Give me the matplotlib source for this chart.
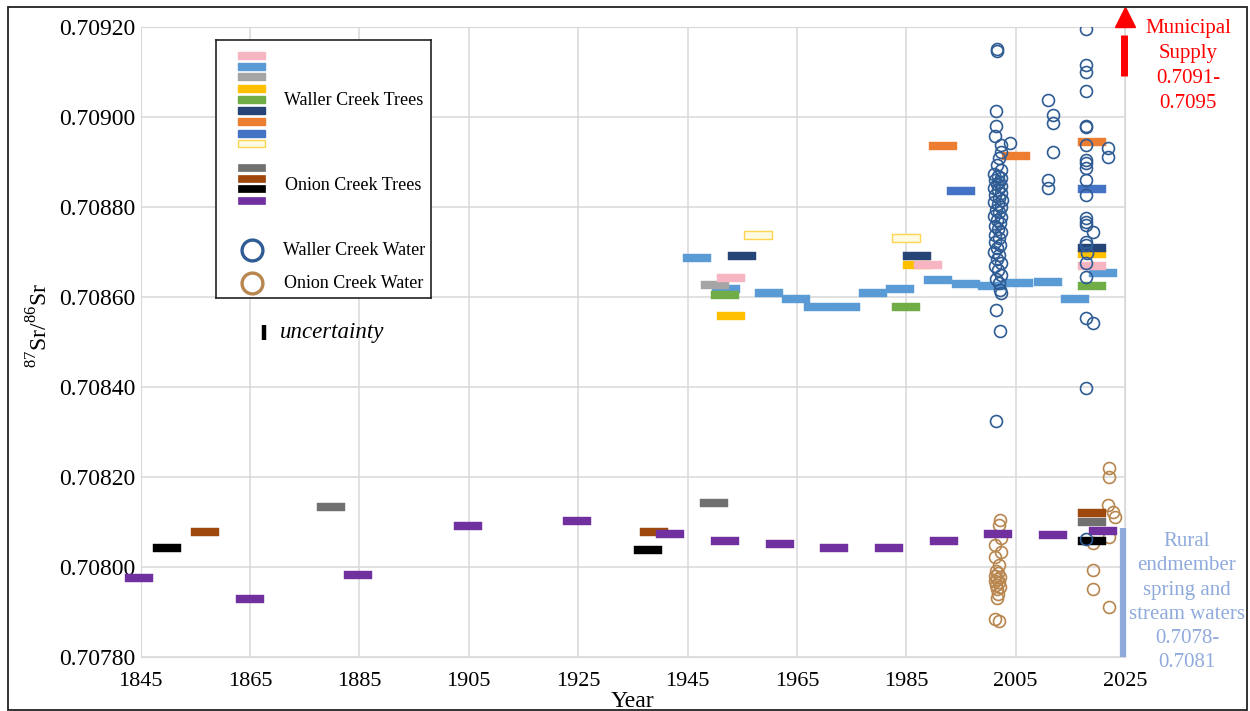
import numpy as np
import matplotlib
matplotlib.use('Agg')
import matplotlib.pyplot as plt
from matplotlib.path import Path
from matplotlib.patches import Rectangle

plt.rcParams['font.family'] = ['Liberation Serif', 'DejaVu Serif']
plt.rcParams['mathtext.fontset'] = 'custom'
plt.rcParams['mathtext.rm'] = 'Liberation Serif'

# ---- Waller Creek trees (year, 87Sr/86Sr) ----
wc_pink_yr = [1952.9, 1988.9, 2019.0]
wc_pink_sr = [0.708642, 0.708670, 0.708669]
wc_ltblue_yr = [1946.8, 1952.0, 1959.9, 1964.9, 1968.9, 1973.9, 1978.9, 1983.9,
                1990.8, 1995.9, 2000.6, 2005.7, 2010.9, 2015.8, 2021.0]
wc_ltblue_sr = [0.708685, 0.708617, 0.708608, 0.708595, 0.708576, 0.708578, 0.708608, 0.708617,
                0.708637, 0.708629, 0.708624, 0.708630, 0.708633, 0.708595, 0.708652]
wc_ltgray_yr = [1950.0]
wc_ltgray_sr = [0.708626]
wc_gold_yr = [1953.0, 1986.9, 2019.0]
wc_gold_sr = [0.708557, 0.708670, 0.708694]
wc_green_yr = [1951.8, 1984.9, 2019.0]
wc_green_sr = [0.708603, 0.708578, 0.708624]
wc_navy_yr = [1954.9, 1986.9, 2019.0]
wc_navy_sr = [0.708690, 0.708690, 0.708708]
wc_orange_yr = [1991.8, 2005.0, 2019.0]
wc_orange_sr = [0.708935, 0.708913, 0.708944]
wc_blue_yr = [1995.0, 2019.0]
wc_blue_sr = [0.708835, 0.708839]
wc_yellow_yr = [1957.9, 1984.9]
wc_yellow_sr = [0.708736, 0.708730]

# ---- Onion Creek trees ----
oc_dkgray_yr = [1879.8, 1949.9, 2018.9]
oc_dkgray_sr = [0.708133, 0.708142, 0.708099]
oc_brown_yr = [1856.8, 1938.9, 2018.9]
oc_brown_sr = [0.708077, 0.708077, 0.708120]
oc_black_yr = [1849.75, 1937.8, 2018.9]
oc_black_sr = [0.708042, 0.708038, 0.708056]
oc_purple_yr = [1844.7, 1864.9, 1884.8, 1904.9, 1924.7, 1941.8, 1951.8, 1961.9,
                1971.8, 1981.9, 1991.9, 2001.8, 2011.8, 2020.9]
oc_purple_sr = [0.707975, 0.707928, 0.707982, 0.708090, 0.708102, 0.708072, 0.708056, 0.708050,
                0.708041, 0.708042, 0.708057, 0.708072, 0.708070, 0.708080]

# ---- Waller Creek water ----
wc_water_yr = [2001.5, 2001.6, 2001.4, 2001.4, 2001.3, 2002.3, 2002.3, 2002.0, 2001.6, 2002.3,
               2001.0, 2001.8, 2002.4, 2001.2, 2002.0, 2001.5, 2002.4, 2001.0, 2001.8, 2002.3,
               2001.3, 2001.9, 2002.5, 2001.1, 2001.7, 2002.3, 2001.4, 2002.0, 2001.1, 2002.4,
               2001.6, 2002.2, 2001.2, 2001.8, 2002.4, 2001.3, 2001.9, 2001.2, 2002.2, 2001.6,
               2001.1, 2002.0, 2001.5, 2002.3, 2001.2, 2001.8, 2002.4, 2001.4, 2001.9, 2002.2,
               2002.4, 2001.4, 2002.1, 2001.4, 2003.9,
               2010.9, 2011.9, 2011.9, 2011.9, 2010.9, 2010.9,
               2017.9, 2017.9, 2017.9, 2017.9, 2017.9, 2017.9, 2017.9, 2017.9, 2017.9, 2017.9,
               2017.9, 2017.9, 2017.9, 2017.9, 2017.9, 2019.1, 2017.9, 2017.9, 2018.1, 2017.9,
               2017.9, 2017.9, 2019.1, 2017.9, 2017.9, 2021.9, 2021.9]
wc_water_sr = [0.709150, 0.709146, 0.709013, 0.708980, 0.708956, 0.708936, 0.708922, 0.708908, 0.708893, 0.708882,
               0.708873, 0.708868, 0.708864, 0.708859, 0.708855, 0.708850, 0.708846, 0.708841, 0.708837, 0.708830,
               0.708826, 0.708819, 0.708815, 0.708810, 0.708806, 0.708800, 0.708793, 0.708788, 0.708780, 0.708776,
               0.708770, 0.708763, 0.708757, 0.708750, 0.708744, 0.708737, 0.708730, 0.708722, 0.708715, 0.708708,
               0.708700, 0.708693, 0.708684, 0.708675, 0.708668, 0.708660, 0.708648, 0.708640, 0.708630, 0.708615,
               0.708608, 0.708570, 0.708524, 0.708324, 0.708941,
               0.709037, 0.709004, 0.708985, 0.708921, 0.708859, 0.708841,
               0.709194, 0.709115, 0.709100, 0.709056, 0.708979, 0.708976, 0.708936, 0.708904, 0.708896, 0.708885,
               0.708859, 0.708826, 0.708774, 0.708767, 0.708759, 0.708743, 0.708722, 0.708715, 0.708696, 0.708674,
               0.708644, 0.708552, 0.708541, 0.708396, 0.708062, 0.708930, 0.708911]

# ---- Onion Creek water ----
oc_water_yr = [2002.2, 2002.0, 2002.3, 2001.2, 2002.3, 2001.2, 2002.0, 2001.4, 2001.8, 2001.3,
               2002.1, 2001.5, 2001.2, 2001.9, 2001.4, 2002.2, 2001.6, 2001.8, 2001.5, 2001.2,
               2002.0,
               2022.1, 2022.1, 2021.9, 2022.8, 2023.1, 2022.1, 2019.1, 2019.1, 2019.1, 2022.1]
oc_water_sr = [0.708104, 0.708093, 0.708064, 0.708048, 0.708033, 0.708022, 0.708004, 0.707990, 0.707985, 0.707980,
               0.707976, 0.707972, 0.707968, 0.707965, 0.707960, 0.707955, 0.707950, 0.707940, 0.707930, 0.707884,
               0.707880,
               0.708220, 0.708200, 0.708137, 0.708122, 0.708111, 0.708067, 0.708052, 0.707993, 0.707950, 0.707911]

# end-member ranges
muni_range = (0.709090, 0.709182)
rural_range = (0.707800, 0.708086)
unc_year, unc_sr, unc_half = 1867.5, 0.708520, 0.000017

xticks = list(range(1845, 2026, 20))
yticks = np.arange(0.70780, 0.709201, 0.0002)

fig = plt.figure(figsize=(12.5, 7.11), dpi=100)
ax = fig.add_axes([0.1126, 0.0764, 0.7874, 0.8861])

ax.set_xlim(1845, 2025)
ax.set_ylim(0.70780, 0.70920)
ax.set_xticks(xticks)
ax.set_yticks(yticks)
ax.set_yticklabels([f'{v:.5f}' for v in yticks])
ax.tick_params(length=0)
ax.tick_params(axis='y', pad=4, labelsize=17)
ax.tick_params(axis='x', pad=11, labelsize=16)
ax.grid(True, color='#D9D9D9', linewidth=1.1)
ax.set_axisbelow(True)
for s in ax.spines.values():
    s.set_color('#D9D9D9')
ax.set_xlabel('Year', fontsize=17, labelpad=0)
ax.set_ylabel(r'$^{87}$Sr/$^{86}$Sr', fontsize=17)
ax.yaxis.set_label_coords(-0.09, 0.5265)

BAR = Path([(-1, -0.26), (1, -0.26), (1, 0.26), (-1, 0.26), (-1, -0.26)],
           [Path.MOVETO, Path.LINETO, Path.LINETO, Path.LINETO, Path.CLOSEPOLY])


def bars(yr, sr, color, edge=None):
    ax.plot(yr, sr, linestyle='none', marker=BAR, markersize=19.5,
            markerfacecolor=color, markeredgecolor=edge or color,
            markeredgewidth=1.0 if edge else 0.3, zorder=3, clip_on=False)


ax.plot(oc_water_yr, oc_water_sr, linestyle='none', marker='o', markersize=8.6,
        markerfacecolor='none', markeredgecolor='#B8864E', markeredgewidth=1.2, zorder=2)

bars(wc_ltblue_yr, wc_ltblue_sr, '#5B9BD5')
bars(wc_ltgray_yr, wc_ltgray_sr, '#A5A5A5')
bars(wc_green_yr, wc_green_sr, '#70AD47')
bars(wc_gold_yr, wc_gold_sr, '#FFC000')
bars(wc_pink_yr, wc_pink_sr, '#F6B5C0')
bars(wc_navy_yr, wc_navy_sr, '#264478')
bars(wc_orange_yr, wc_orange_sr, '#ED7D31')
bars(wc_blue_yr, wc_blue_sr, '#4472C4')
bars(wc_yellow_yr, wc_yellow_sr, '#FFFBE3', edge='#FFD54F')
bars(oc_dkgray_yr, oc_dkgray_sr, '#707070')
bars(oc_brown_yr, oc_brown_sr, '#9E480E')
bars(oc_black_yr, oc_black_sr, '#000000')
bars(oc_purple_yr, oc_purple_sr, '#7030A0')

ax.plot(wc_water_yr, wc_water_sr, linestyle='none', marker='o', markersize=8.6,
        markerfacecolor='none', markeredgecolor='#2F5C94', markeredgewidth=1.2, zorder=4)

# uncertainty bar
ax.plot([unc_year, unc_year], [unc_sr - unc_half, unc_sr + unc_half], color='black', lw=3.2,
        solid_capstyle='butt', zorder=5)
ax.text(unc_year + 3.0, unc_sr, 'uncertainty', fontsize=16.5, style='italic', va='center', ha='left')

# municipal supply arrow and rural range bar
ax.plot([2024.8, 2024.8], muni_range, color='#FF0000', lw=5, solid_capstyle='butt', clip_on=False, zorder=5)
ax.plot([2025.0], [0.709222], linestyle='none', marker='^', markersize=14, color='#FF0000', clip_on=False, zorder=5)
ax.plot([2024.6, 2024.6], rural_range, color='#8FAADC', lw=4.5, solid_capstyle='butt', clip_on=False, zorder=5)

fig.text(0.9504, 0.907, 'Municipal\nSupply\n0.7091-\n0.7095', color='#FF0000', fontsize=15,
         ha='center', va='center', linespacing=1.42)
fig.text(0.9496, 0.153, 'Rural\nendmember\nspring and\nstream waters\n0.7078-\n0.7081', color='#8FAADC',
         fontsize=15, ha='center', va='center', linespacing=1.37)

# custom legend box
lax = fig.add_axes([216 / 1250, 1 - 298 / 711, 215 / 1250, 258 / 711])
lax.set_xlim(0, 215)
lax.set_ylim(258, 0)
lax.set_xticks([])
lax.set_yticks([])
for s in lax.spines.values():
    s.set_color('#222222')
    s.set_linewidth(1.2)

leg_waller = ['#F6B5C0', '#5B9BD5', '#A5A5A5', '#FFC000', '#70AD47', '#264478', '#ED7D31', '#4472C4', '#FFFBE3']
leg_waller_y = [15, 26, 36.7, 48.3, 59.3, 70.7, 81.7, 93.3, 103.3]
leg_onion = ['#707070', '#9E480E', '#000000', '#7030A0']
leg_onion_y = [127.3, 138, 148.3, 160]
for c, y in zip(leg_waller, leg_waller_y):
    ec = '#FFD54F' if c == '#FFFBE3' else c
    lax.add_patch(Rectangle((21.7, y - 3.5), 27.3, 7, facecolor=c, edgecolor=ec, lw=1.0))
for c, y in zip(leg_onion, leg_onion_y):
    lax.add_patch(Rectangle((21.7, y - 3.5), 27.3, 7, facecolor=c, edgecolor=c, lw=0.5))
lax.plot([35.5], [210], marker='o', markersize=15, markerfacecolor='none', markeredgecolor='#2F5C94', markeredgewidth=2.4)
lax.plot([35.5], [243.3], marker='o', markersize=15, markerfacecolor='none', markeredgecolor='#B8864E', markeredgewidth=2.4)
lax.text(68, 60.7, 'Waller Creek Trees', fontsize=13, va='center')
lax.text(69, 145, 'Onion Creek Trees', fontsize=13, va='center')
lax.text(66.7, 210, 'Waller Creek Water', fontsize=13, va='center')
lax.text(68, 243.3, 'Onion Creek Water', fontsize=13, va='center')

# outer frame
fig.patches.append(Rectangle((8 / 1250, 1 / 711), 1239 / 1250, 703 / 711, transform=fig.transFigure,
                             fill=False, edgecolor='#222222', lw=1.3))

plt.savefig('out.png', dpi=100)
